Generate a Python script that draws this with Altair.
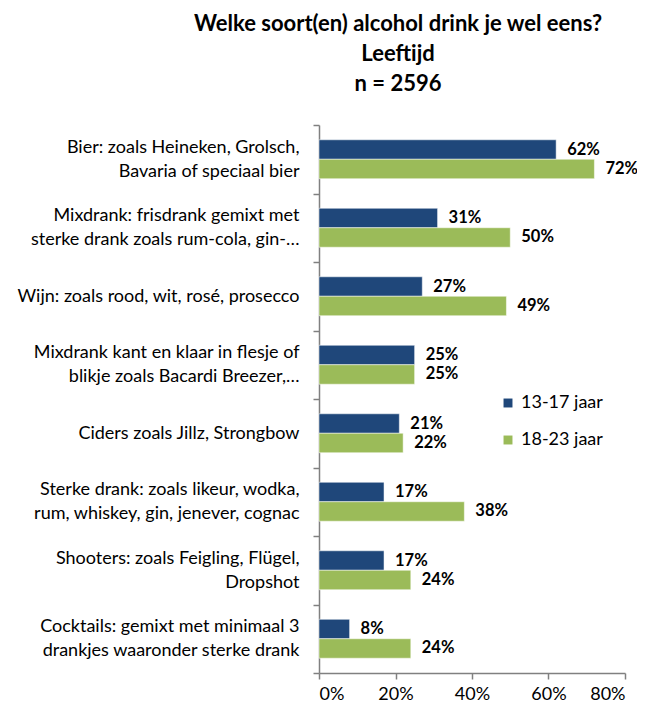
import altair as alt
import pandas as pd

categories = [
    "Bier: zoals Heineken, Grolsch,|Bavaria of speciaal bier",
    "Mixdrank: frisdrank gemixt met|sterke drank zoals rum-cola, gin-…",
    "Wijn: zoals rood, wit, rosé, prosecco",
    "Mixdrank kant en klaar in flesje of|blikje zoals Bacardi Breezer,…",
    "Ciders zoals Jillz, Strongbow ",
    "Sterke drank: zoals likeur, wodka,|rum, whiskey, gin, jenever, cognac",
    "Shooters: zoals Feigling, Flügel,|Dropshot",
    "Cocktails: gemixt met minimaal 3|drankjes waaronder sterke drank",
]
series = ["13-17 jaar", "18-23 jaar"]
values_13_17 = [62, 31, 27, 25, 21, 17, 17, 8]
values_18_23 = [72, 50, 49, 25, 22, 38, 24, 24]
colors = ["#1F477A", "#9BBB59"]

rows = []
for c, a, b in zip(categories, values_13_17, values_18_23):
    rows.append({"cat": c, "group": series[0], "value": a / 100})
    rows.append({"cat": c, "group": series[1], "value": b / 100})
df = pd.DataFrame(rows)

FONT = "Lato"

y = alt.Y(
    "cat:N",
    sort=categories,
    title=None,
    scale=alt.Scale(paddingInner=0, paddingOuter=0),
    axis=alt.Axis(
        labelExpr="split(datum.label, '|')",
        labelFont=FONT,
        labelFontSize=18,
        labelColor="#000000",
        labelLimit=400,
        labelLineHeight=24,
        labelPadding=14,
        labelOffset={"condition": {"test": "indexof(datum.label, '|') >= 0", "value": -12}, "value": 0},
        tickBand="extent",
        tickSize=6,
        tickWidth=1.5,
        tickColor="#808080",
        domainColor="#808080",
        domainWidth=1.5,
        grid=False,
    ),
)
yoff = alt.YOffset("group:N", sort=series, scale=alt.Scale(paddingInner=0, paddingOuter=0.76))
x = alt.X(
    "value:Q",
    title=None,
    scale=alt.Scale(domain=[0, 0.8]),
    axis=alt.Axis(
        format=".0%",
        values=[0, 0.2, 0.4, 0.6, 0.8],
        labelFont=FONT,
        labelFontSize=18,
        labelColor="#000000",
        labelPadding=6,
        tickSize=6,
        tickWidth=1.5,
        tickColor="#808080",
        domainColor="#808080",
        domainWidth=1.5,
        grid=False,
    ),
)

bars = alt.Chart(df).mark_bar(stroke="white", strokeWidth=0.5).encode(
    x=x,
    y=y,
    yOffset=yoff,
    color=alt.Color(
        "group:N",
        sort=series,
        scale=alt.Scale(domain=series, range=colors),
        legend=alt.Legend(
            title=None,
            orient="none",
            legendX=180,
            legendY=269,
            symbolType="square",
            symbolSize=80,
            symbolStrokeWidth=0,
            labelFont=FONT,
            labelFontSize=18,
            labelColor="#000000",
            rowPadding=19,
        ),
    ),
)

labels = alt.Chart(df).mark_text(
    align="left", baseline="middle", dx=11, font=FONT, fontSize=16.5, fontWeight="bold", color="#000000"
).encode(
    x="value:Q",
    y=alt.Y("cat:N", sort=categories),
    yOffset=alt.YOffset("group:N", sort=series),
    text=alt.Text("value:Q", format=".0%"),
)

chart = (
    alt.layer(bars, labels)
    .properties(
        width=306,
        height=548,
        autosize=alt.AutoSizeParams(type="none"),
        padding={"left": 311, "top": 117, "right": 12, "bottom": 33},
        title=alt.Title(
            ["Welke soort(en) alcohol drink je wel eens?", "Leeftijd", "n = 2596"],
            font=FONT,
            fontSize=22,
            fontWeight="bold",
            color="#000000",
            lineHeight=30,
            anchor="middle",
            dx=-74,
            offset=20,
        ),
    )
    .configure_view(stroke=None)
)

chart.save("out.html", embed_options={"renderer": "svg", "actions": False})
